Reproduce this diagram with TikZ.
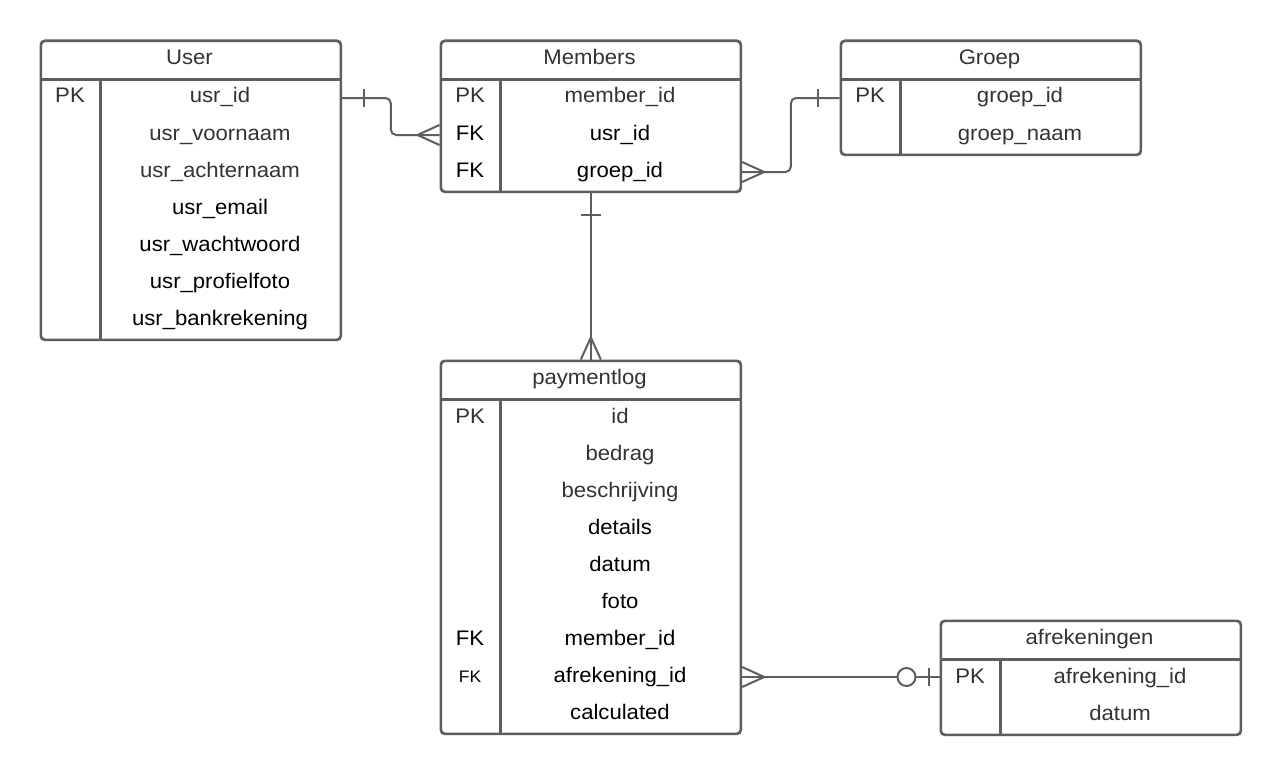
\documentclass[tikz,border=0pt]{standalone}
\usepackage{fontspec}
\setmainfont{Liberation Sans}[FakeStretch=1.05]
\usetikzlibrary{calc}
\definecolor{linec}{RGB}{94,94,94}
\definecolor{txtg}{RGB}{51,51,51}
% #1 name, #2 left, #3 top, #4 rows, #5 title
\newcommand\ertbl[5]{%
  \pgfmathsetmacro\erh{40+37*#4}%
  \node[tbl, minimum height=\erh*0.75pt, anchor=north west] (#1) at (#2,#3) {};
  \draw[tblline] (#2,#3+40) -- (#2+300,#3+40);
  \draw[tblline] (#2+61,#3+40) -- (#2+61,#3+\erh);
  \node[g] (#1-t) at (#2+150,#3+20) {#5};
}
% #1 table, #2 left, #3 top, #4 index, #5 key style, #6 key, #7 field style, #8 field
\newcommand\errow[8]{%
  \node[#5] (#1-k#4) at (#2+30.5,#3+40+37*#4-18.5) {#6};
  \node[#7] (#1-#4) at (#2+180.5,#3+40+37*#4-18.5) {#8};
}
\begin{document}
\begin{tikzpicture}[x=0.75pt,y=-0.75pt,
  tbl/.style={draw=linec, line width=2pt, rounded corners=3pt, minimum width=225pt, inner sep=0pt, fill=white},
  tblline/.style={draw=linec, line width=2pt},
  conn/.style={draw=linec, line width=1.5pt},
  txt/.style={inner sep=0pt, text height=10pt, text depth=2.5pt, font=\fontsize{15.8}{18}\selectfont},
  g/.style={txt, text=txtg},
  b/.style={txt, text=black},
  bs/.style={b, font=\fontsize{12.5}{14}\selectfont}]
\fill[white] (0,0) rectangle (1280,774);
\useasboundingbox (0,0) rectangle (1280,774);

% User
\ertbl{user}{39.5}{39.5}{7}{User}
\errow{user}{39.5}{39.5}{1}{g}{PK}{g}{usr\_id}
\errow{user}{39.5}{39.5}{2}{g}{}{g}{usr\_voornaam}
\errow{user}{39.5}{39.5}{3}{g}{}{g}{usr\_achternaam}
\errow{user}{39.5}{39.5}{4}{g}{}{b}{usr\_email}
\errow{user}{39.5}{39.5}{5}{g}{}{b}{usr\_wachtwoord}
\errow{user}{39.5}{39.5}{6}{g}{}{b}{usr\_profielfoto}
\errow{user}{39.5}{39.5}{7}{g}{}{b}{usr\_bankrekening}

% Members
\ertbl{members}{439.5}{39.5}{3}{Members}
\errow{members}{439.5}{39.5}{1}{g}{PK}{g}{member\_id}
\errow{members}{439.5}{39.5}{2}{b}{FK}{b}{usr\_id}
\errow{members}{439.5}{39.5}{3}{b}{FK}{b}{groep\_id}

% Groep
\ertbl{groep}{839.5}{39.5}{2}{Groep}
\errow{groep}{839.5}{39.5}{1}{g}{PK}{g}{groep\_id}
\errow{groep}{839.5}{39.5}{2}{g}{}{g}{groep\_naam}

% paymentlog
\ertbl{pay}{439.5}{359.5}{9}{paymentlog}
\errow{pay}{439.5}{359.5}{1}{g}{PK}{g}{id}
\errow{pay}{439.5}{359.5}{2}{g}{}{g}{bedrag}
\errow{pay}{439.5}{359.5}{3}{g}{}{g}{beschrijving}
\errow{pay}{439.5}{359.5}{4}{g}{}{b}{details}
\errow{pay}{439.5}{359.5}{5}{g}{}{b}{datum}
\errow{pay}{439.5}{359.5}{6}{g}{}{b}{foto}
\errow{pay}{439.5}{359.5}{7}{b}{FK}{b}{member\_id}
\errow{pay}{439.5}{359.5}{8}{bs}{FK}{b}{afrekening\_id}
\errow{pay}{439.5}{359.5}{9}{g}{}{b}{calculated}

% afrekeningen
\ertbl{afr}{939.5}{619.5}{2}{afrekeningen}
\errow{afr}{939.5}{619.5}{1}{g}{PK}{g}{afrekening\_id}
\errow{afr}{939.5}{619.5}{2}{g}{}{g}{datum}

% User -> Members
\coordinate (c1a) at (user.east |- user-1);
\coordinate (c1b) at (members.west |- members-2);
\draw[conn, rounded corners=4pt] (c1a) -| ($(c1a)!0.5!(c1b)$) |- (c1b);
\draw[conn] ($(c1a)+(22,-9)$) -- ($(c1a)+(22,9)$);
\draw[conn] ($(c1b)+(-22,0)$) -- ($(c1b)+(0,-10)$);
\draw[conn] ($(c1b)+(-22,0)$) -- ($(c1b)+(0,10)$);

% Members -> Groep
\coordinate (c2a) at (members.east |- members-3);
\coordinate (c2b) at (groep.west |- groep-1);
\draw[conn, rounded corners=4pt] (c2a) -| ($(c2a)!0.5!(c2b)$) |- (c2b);
\draw[conn] ($(c2a)+(22,0)$) -- ($(c2a)+(0,-10)$);
\draw[conn] ($(c2a)+(22,0)$) -- ($(c2a)+(0,10)$);
\draw[conn] ($(c2b)+(-22,-9)$) -- ($(c2b)+(-22,9)$);

% Members -> paymentlog
\draw[conn] (members.south) -- (pay.north);
\draw[conn] ($(members.south)+(-10,22)$) -- ($(members.south)+(10,22)$);
\draw[conn] ($(pay.north)+(0,-22)$) -- ($(pay.north)+(-10,0)$);
\draw[conn] ($(pay.north)+(0,-22)$) -- ($(pay.north)+(10,0)$);

% paymentlog -> afrekeningen
\coordinate (c4a) at (pay.east |- pay-8);
\coordinate (c4b) at (c4a -| afr.west);
\draw[conn] (c4a) -- (c4b);
\draw[conn] ($(c4a)+(22,0)$) -- ($(c4a)+(0,-10)$);
\draw[conn] ($(c4a)+(22,0)$) -- ($(c4a)+(0,10)$);
\draw[conn, fill=white] ($(c4b)+(-33,0)$) circle[radius=9];
\draw[conn] ($(c4b)+(-11,-9)$) -- ($(c4b)+(-11,9)$);
\end{tikzpicture}
\end{document}
